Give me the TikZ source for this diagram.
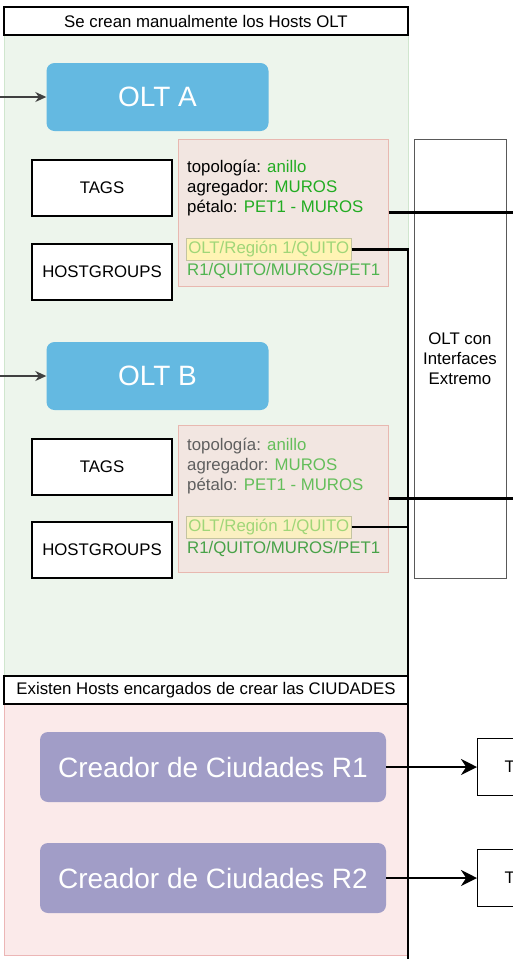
\documentclass[tikz,border=0pt]{standalone}
\usepackage{fontspec}
\setmainfont{Liberation Sans}
\usepackage{xcolor}
\usetikzlibrary{arrows.meta}
\definecolor{zonegreen}{RGB}{237,245,236}
\definecolor{zonegreenedge}{RGB}{208,230,206}
\definecolor{zonepink}{RGB}{251,234,234}
\definecolor{zonepinkedge}{RGB}{236,182,182}
\definecolor{oltblue}{RGB}{100,185,225}
\definecolor{cityviolet}{RGB}{161,157,199}
\definecolor{infofill}{RGB}{242,230,225}
\definecolor{infoedge}{RGB}{232,184,176}
\definecolor{hlfill}{RGB}{255,244,180}
\definecolor{hledge}{RGB}{196,196,160}
\definecolor{hltext}{RGB}{160,214,120}
\definecolor{okgreen}{RGB}{34,172,34}
\definecolor{okgreenB}{RGB}{100,190,90}
\definecolor{pathgreen}{RGB}{80,180,80}
\definecolor{greytext}{RGB}{95,95,95}
\newcommand{\fsmall}{\fontsize{16.8}{20}\selectfont}
\newcommand{\fbig}{\fontsize{28}{34}\selectfont}
\newcommand{\okA}[1]{\textcolor{okgreen}{#1}}
\newcommand{\okB}[1]{\textcolor{okgreenB}{#1}}
\tikzset{
  lane/.style={draw=black,fill=white,line width=1.4pt,minimum width=404pt,minimum height=28pt,inner sep=0pt,font=\fsmall},
  olt/.style={rounded corners=8pt,fill=oltblue,text=white,minimum width=222pt,minimum height=68pt,inner sep=0pt,font=\fbig},
  city/.style={rounded corners=8pt,fill=cityviolet,text=white,minimum width=346pt,minimum height=70pt,inner sep=0pt,font=\fbig},
  tagbox/.style={draw=black,fill=white,line width=1.2pt,minimum width=140pt,minimum height=56pt,inner sep=0pt,font=\fsmall},
  info/.style={draw=infoedge,fill=infofill,line width=1pt,minimum width=210pt,minimum height=147pt,inner sep=0pt},
  hl/.style={draw=hledge,fill=hlfill,line width=1pt,minimum height=22pt,inner xsep=1.8pt,inner ysep=0pt,anchor=west,font=\fsmall},
  txt/.style={anchor=base west,inner sep=0pt,font=\fsmall},
  sidebox/.style={draw=gray!70!black,fill=white,line width=1pt,inner sep=0pt,align=center,font=\fsmall},
  wire/.style={line width=2.4pt},
  feed/.style={line width=1.5pt,black!75,-{Stealth[length=11pt,width=10pt]}},
  arr/.style={line width=2.4pt,-{Stealth[length=16pt,width=16pt]}}
}

\begin{document}
\begin{tikzpicture}[x=1pt,y=-1pt]
\useasboundingbox (0,0) rectangle (512,959);
\path[fill=zonegreen,draw=zonegreenedge,line width=1pt] (4,35) rectangle (408,676);
\path[fill=zonepink,draw=zonepinkedge,line width=1pt] (4,704) rectangle (407,955);
\node[lane] (laneOLT) at (206,21) {Se crean manualmente los Hosts OLT};
\node[lane] (laneCity) at (206,690) {Existen Hosts encargados de crear las CIUDADES};

\node[olt] (oltA) at (157.5,97) {OLT A};
\coordinate (inA) at (0,97); \draw[feed] (inA) -- (oltA);
\node[tagbox] (tagsA) at (102,188) {TAGS};
\node[tagbox] (hgA) at (102,272) {HOSTGROUPS};
\node[info] (infoA) at (283,212.5) {};
\node[txt] (topoA) at (187,172) {topología: \okA{anillo}};
\node[txt] (aggA) at (187,192) {agregador: \okA{MUROS}};
\node[txt] (petA) at (187,212) {pétalo: \okA{PET1 - MUROS}};
\node[hl] (hlA) at (186,249.5) {\textcolor{hltext}{OLT/Región 1/QUITO}};
\node[txt] (pathA) at (187,275) {\textcolor{pathgreen}{R1/QUITO/MUROS/PET1}};

\node[olt] (oltB) at (157.5,376) {OLT B};
\coordinate (inB) at (0,376); \draw[feed] (inB) -- (oltB);
\node[tagbox] (tagsB) at (102,467) {TAGS};
\node[tagbox] (hgB) at (102,550) {HOSTGROUPS};
\node[info] (infoB) at (283,498.5) {};
\node[txt,text=greytext] (topoB) at (187,450) {topología: \okB{anillo}};
\node[txt,text=greytext] (aggB) at (187,470) {agregador: \okB{MUROS}};
\node[txt,text=greytext] (petB) at (187,490) {pétalo: \okB{PET1 - MUROS}};
\node[hl,fill=hlfill!70!infofill] (hlB) at (186,527) {\textcolor{hltext}{OLT/Región 1/QUITO}};
\node[txt] (pathB) at (187,553) {\textcolor{pathgreen!90!black}{R1/QUITO/MUROS/PET1}};

\node[sidebox,minimum width=92pt,minimum height=439pt] (oltCon) at (460,358.5) {OLT con\\Interfaces\\Extremo};

\coordinate (outA) at (516,212.5); \draw[wire] (infoA.east) -- (outA);
\coordinate (outB) at (516,498.5); \draw[wire] (infoB.east) -- (outB);
\coordinate (busEnd) at (408,962); \draw[wire] (hlA.east) -| (busEnd);
\coordinate (busB) at (408,545); \draw[wire] (hlB.east) -| (busB);

\node[city] (cityR1) at (213,767) {Creador de Ciudades R1};
\node[city] (cityR2) at (213,878) {Creador de Ciudades R2};
\node[tagbox,anchor=west,minimum width=0pt,minimum height=57pt,text width=40pt,inner xsep=27pt] (tR1) at (477,767) {T};
\node[tagbox,anchor=west,minimum width=0pt,minimum height=57pt,text width=40pt,inner xsep=27pt] (tR2) at (477,878) {T};
\draw[arr] (cityR1) -- (tR1);
\draw[arr] (cityR2) -- (tR2);
\end{tikzpicture}
\end{document}
